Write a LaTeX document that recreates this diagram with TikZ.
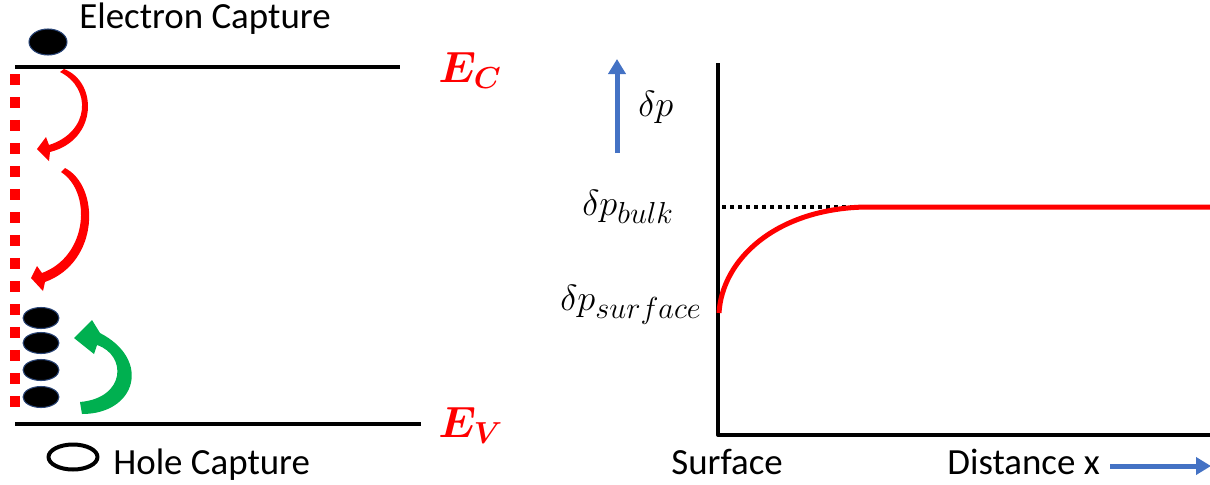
\documentclass[tikz,border=0pt]{standalone}
\usepackage{amsmath,bm}
\usepackage{fontspec}
\setmainfont{Carlito}
\usetikzlibrary{arrows.meta,shapes.geometric}
\DeclareMathSizes{21}{21}{17}{14}
\DeclareMathSizes{24}{24}{18}{14}
\definecolor{trapred}{RGB}{255,0,0}
\definecolor{holegreen}{RGB}{0,176,80}
\definecolor{axisblue}{RGB}{68,114,196}
\tikzset{
  band/.style={line width=0.08cm},
  carrier/.style={ellipse,fill=black,draw=axisblue!60!black,line width=0.6pt,
    minimum width=0.72cm,minimum height=0.42cm,inner sep=0pt},
  txt/.style={anchor=base west,inner sep=0pt},
  level/.style={anchor=base west,inner sep=0pt,text=trapred,font=\fontsize{24}{28}\selectfont},
  bluearrow/.style={axisblue,line width=0.1cm,-{Triangle[width=0.34cm,length=0.3cm]}}
}
\begin{document}
\begin{tikzpicture}[x=0.02cm,y=-0.02cm,font=\fontsize{21}{25}\selectfont,line join=round]
  \useasboundingbox (0,0) rectangle (1210,484);
  % left panel: band edges and surface states
  \coordinate (ecl) at (15,67);  \coordinate (ecr) at (400,67);
  \coordinate (evl) at (15,424); \coordinate (evr) at (421,424);
  \draw[band] (ecl) -- (ecr);
  \draw[band] (evl) -- (evr);
  \node[level] (ec) at (438,82) {$\bm{E}_{\bm{C}}$};
  \node[level] (ev) at (438,437) {$\bm{E}_{\bm{V}}$};
  \coordinate (sstop) at (15,74); \coordinate (ssbot) at (15,408);
  \draw[trapred,line width=0.22cm,dash pattern=on 0.22cm off 0.24cm] (sstop) -- (ssbot);
  \node[carrier,minimum width=0.76cm,minimum height=0.52cm] (elec) at (48,42) {};
  \node[txt] (ecap) at (79,28) {Electron Capture};
  \node[carrier] (t1) at (41,318) {};
  \node[carrier] (t2) at (41,343) {};
  \node[carrier] (t3) at (41,370) {};
  \node[carrier] (t4) at (41,397) {};
  \node[ellipse,draw=black,line width=0.08cm,minimum width=0.98cm,minimum height=0.5cm,inner sep=0pt] (hole) at (73,457) {};
  \node[txt] (hcap) at (113,474) {Hole Capture};
  % curved arrows
  \fill[trapred] (60,72) -- (64,69) .. controls (98,82) and (98,140) .. (50,152)
    -- (49,161) -- (37,149) -- (46,137) -- (49,145) .. controls (90,132) and (92,88) .. cycle;
  \fill[trapred] (61,172) -- (65,168) .. controls (100,186) and (100,262) .. (45,282)
    -- (43,291) -- (31,278) -- (37,266) -- (42,273) .. controls (88,256) and (92,192) .. cycle;
  \fill[holegreen] (80,402) -- (82,414) .. controls (136,414) and (152,360) .. (100,333)
    -- (92,320) -- (74,338) -- (94,354) -- (97,345) .. controls (127,355) and (126,398) .. cycle;
  % right panel: excess hole profile
  \coordinate (ytop) at (718,63); \coordinate (orig) at (718,435); \coordinate (xend) at (1212,435);
  \draw[band] (ytop) -- (orig) -- (xend);
  \coordinate (psurf) at (719,313); \coordinate (pknee) at (865,207); \coordinate (pend) at (1212,207);
  \draw[black,line width=0.08cm,dash pattern=on 0.08cm off 0.08cm] (722,207) -- (850,207);
  \draw[trapred,line width=0.1cm] (psurf) .. controls (722,260) and (775,209) .. (pknee) -- (pend);
  \coordinate (dpfoot) at (617,153); \coordinate (dptip) at (617,59);
  \draw[bluearrow] (dpfoot) -- (dptip);
  \node[txt] (dp) at (638,116) {$\delta p$};
  \node[txt] (dpbulk) at (582,215) {$\delta p_{bulk}$};
  \node[txt] (dpsurf) at (560,310) {$\delta p_{surface}$};
  \node[txt] (surf) at (671,474) {Surface};
  \node[txt] (dist) at (947,474) {Distance x};
  \coordinate (xfoot) at (1110,466); \coordinate (xtip) at (1211,466);
  \draw[bluearrow] (xfoot) -- (xtip);
\end{tikzpicture}
\end{document}
